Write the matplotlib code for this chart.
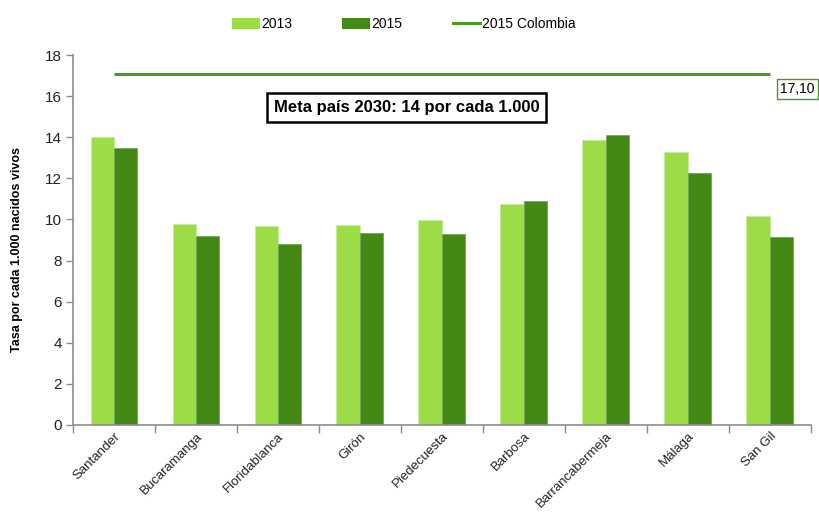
import matplotlib
matplotlib.use("Agg")
import matplotlib.pyplot as plt
import numpy as np
from matplotlib.patches import Patch
from matplotlib.lines import Line2D

plt.rcParams['font.family'] = ['Liberation Sans', 'DejaVu Sans']

municipios = ["Santander", "Bucaramanga", "Floridablanca", "Girón", "Piedecuesta",
              "Barbosa", "Barrancabermeja", "Málaga", "San Gil"]
tasa_2013 = [14.0, 9.8, 9.7, 9.75, 9.97, 10.75, 13.85, 13.3, 10.15]
tasa_2015 = [13.5, 9.2, 8.8, 9.33, 9.27, 10.9, 14.1, 12.25, 9.13]
colombia_2015 = 17.10
yticks = [0, 2, 4, 6, 8, 10, 12, 14, 16, 18]

c2013 = "#9CDC46"
c2015 = "#448816"
cline = "#4B9A20"
gray = "#8C8C8C"

fig = plt.figure(figsize=(8.19, 5.15), dpi=100)
ax = fig.add_axes([0.089, 0.175, 0.901, 0.718])

x = np.arange(len(municipios))
w = 0.285
ax.bar(x - w / 2, tasa_2013, width=w, color=c2013, edgecolor="#C8EE9C", linewidth=0.6)
ax.bar(x + w / 2, tasa_2015, width=w, color=c2015, edgecolor="#6FA850", linewidth=0.6)
ax.plot(x, [colombia_2015] * len(x), color=cline, linewidth=2.2, solid_capstyle="butt")

ax.text(x[-1] + 0.13, colombia_2015 - 0.75, f"{colombia_2015:.2f}".replace(".", ","),
        fontsize=10, ha="left", va="center",
        bbox=dict(boxstyle="square,pad=0.25", facecolor="white", edgecolor=cline, linewidth=1))

ax.text(3.57, 15.47, "Meta país 2030: 14 por cada 1.000", fontsize=12, fontweight="bold",
        ha="center", va="center",
        bbox=dict(boxstyle="square,pad=0.42", facecolor="white", edgecolor="black", linewidth=1.8))

ax.set_xlim(-0.5, len(municipios) - 0.5)
ax.set_ylim(0, 18)
ax.set_yticks(yticks)
ax.set_yticklabels([str(v) for v in yticks], fontsize=11, color="#222222")

ax.set_xticks(np.arange(-0.5, len(municipios), 1.0))
ax.set_xticklabels([])
ax.set_xticks(x, minor=True)
ax.set_xticklabels(municipios, minor=True, rotation=45, ha="right", va="top",
                   rotation_mode="anchor", fontsize=9.5, color="#222222")
ax.tick_params(axis="x", which="minor", length=0, pad=4)
ax.tick_params(axis="x", which="major", length=6, color=gray, width=1)
ax.tick_params(axis="y", length=5, color=gray, width=1, pad=3)

for s in ["top", "right"]:
    ax.spines[s].set_visible(False)
for s in ["left", "bottom"]:
    ax.spines[s].set_color(gray)
    ax.spines[s].set_linewidth(1.2)

ax.set_ylabel("Tasa por cada 1.000 nacidos vivos", fontsize=9, fontweight="bold", labelpad=14)
ax.yaxis.set_label_coords(-0.068, 0.475)

handles = [Patch(facecolor=c2013, edgecolor="none"),
           Patch(facecolor=c2015, edgecolor="none"),
           Line2D([0], [0], color=cline, linewidth=2.2)]
fig.legend(handles, ["2013", "2015", "2015 Colombia"], loc="center",
           bbox_to_anchor=(0.493, 0.953), ncol=3, frameon=False, fontsize=10,
           handlelength=2.0, handleheight=0.9, handletextpad=0.1, columnspacing=3.6)

fig.savefig("out.png", dpi=100)
